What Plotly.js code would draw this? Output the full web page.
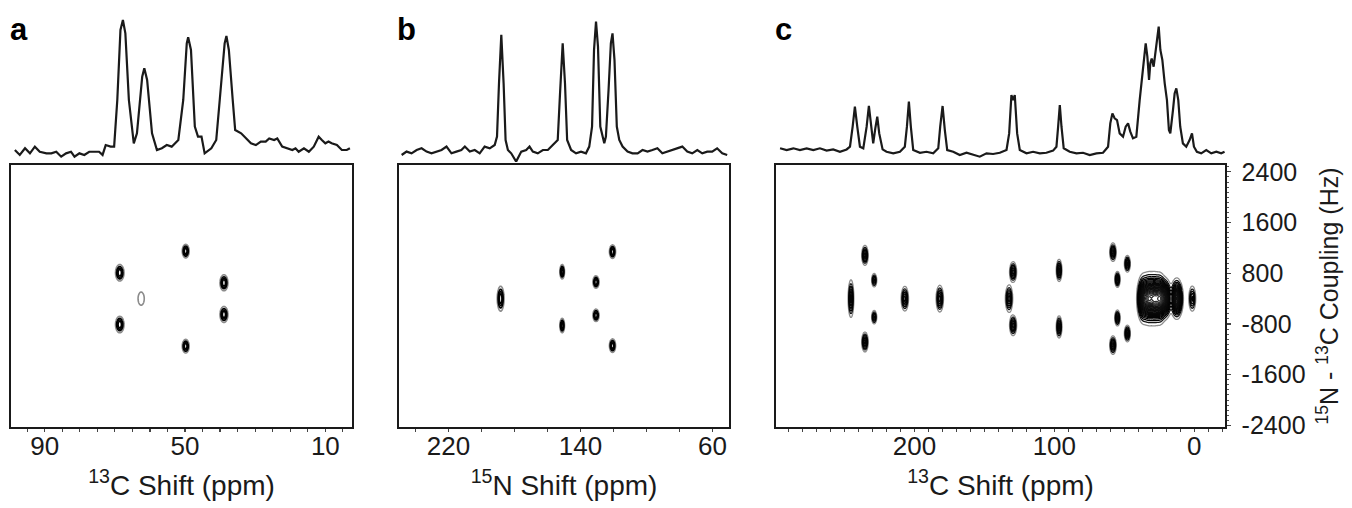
<!DOCTYPE html>
<html>
<head>
<meta charset="utf-8">
<script src="https://cdn.plot.ly/plotly-3.0.1.min.js"></script>
<style>html,body{margin:0;padding:0;background:#fff;}#chart{width:1352px;height:508px;}</style>
</head>
<body>
<div id="chart"></div>
<script>
// ---------- 1D spectra (intensity in % of the tallest peak) ----------
const specA_ppm = [98.5,97.1,95.6,94.2,92.8,91.4,89.5,88.1,86.7,85.3,83.9,82.5,81.5,80.1,78.7,77.3,75.4,74.5,73.5,72.6,71.2,70.2,69.3,68.4,67.7,67.0,66.0,64.6,63.7,62.2,61.6,60.8,59.4,58.0,56.6,55.2,53.8,51.9,50.5,49.5,49.1,48.3,47.2,46.3,45.3,44.4,42.5,41.1,40.1,38.7,38.2,37.5,36.4,35.7,34.0,32.6,31.2,29.8,28.4,27.0,26.0,24.6,23.7,22.3,20.9,19.4,18.5,17.6,16.1,14.7,13.3,11.9,11.0,10.0,9.1,8.2,6.7,5.3,3.9,3.0];
const specA_int = [2.5,-1.2,3.8,0,5,1.2,0,0,1.2,-2.5,0,1.2,-2.5,0,-1.2,1.2,1.2,1.2,-1.2,6.2,5,5,40,92.5,100,90,40,7.5,15,57.5,63.8,55,15,2.5,3.8,6.2,5,10,40,82.5,87,77.5,20,12.5,12.5,0,3.8,10,40,82.5,88,77.5,40,17.5,15,11.2,7.5,6.2,8.8,8.8,11.2,10,11.2,5,3.8,2.5,3.8,1.2,3.8,1.2,5,12.5,10,7.5,8.8,7.5,6.2,2.5,2.5,3.8];

const specB_ppm = [248.4,245.4,242.4,239.3,236.3,233.3,230.3,227.2,224.2,221.2,218.2,215.2,212.2,210.1,207.1,204.1,201.1,198.1,195.0,192.0,190.6,189.4,188.0,186.6,185.4,184.0,182.0,179.0,175.9,172.9,170.9,168.9,165.9,162.8,159.8,156.8,153.8,152.4,150.8,149.4,148.1,145.7,142.7,139.7,136.7,134.7,133.0,131.8,130.6,129.4,128.0,125.6,124.6,123.0,121.6,120.6,119.4,118.0,116.5,114.5,111.5,108.5,105.4,102.4,99.4,96.4,93.4,90.4,87.4,84.3,81.3,78.3,75.3,72.3,69.2,66.2,63.2,60.2,57.2,54.1,51.1];
const specB_int = [-1.3,1.3,0,2.5,3.8,1.3,0,1.3,2.5,5.1,0,1.3,2.5,5.1,1.3,2.5,0,5.1,3.8,6.3,12.7,53.2,89.9,53.2,10.1,2.5,0,-6.3,1.3,2.5,5.1,1.3,0,2.5,2.5,6.3,10.1,45.6,83.5,53.2,10.1,2.5,0,1.3,0,5.1,20.3,78.5,100,81,20.3,7.6,12.7,48.1,83.5,91.1,70.9,20.3,10.1,5.1,1.3,0,0,2.5,1.3,2.5,3.8,0,1.3,2.5,3.8,5.1,1.3,0,2.5,0,1.3,1.3,3.8,0,-1.3];

const specC_ppm = [296.1,291.4,286.6,281.9,277.1,272.3,267.6,262.8,258.1,253.3,248.5,246.1,244.2,242.6,240.9,239.0,236.6,234.2,232.6,230.9,229.5,228.0,226.6,225.2,222.8,220.0,215.2,210.4,206.9,205.4,204.0,202.6,200.9,196.1,191.4,186.6,183.0,181.6,179.9,178.3,176.6,172.3,167.6,162.8,158.0,153.3,148.5,143.8,139.0,134.2,132.3,130.7,129.5,128.3,126.6,124.7,119.9,115.2,110.4,105.7,100.9,98.5,97.3,96.1,94.9,93.3,89.0,84.2,79.5,74.7,69.9,65.2,61.6,60.0,58.5,56.9,55.2,53.3,50.9,49.0,47.3,45.7,43.8,41.4,39.0,37.8,36.1,34.7,33.5,32.3,31.4,30.4,29.0,27.6,26.4,25.4,24.2,22.8,21.1,19.5,18.1,17.1,15.2,14.0,12.8,11.4,10.0,8.1,5.7,3.3,1.6,0.2,-1.9,-5.0,-8.6,-12.2,-15.8,-19.3,-21.7];
const specC_int = [1.4,0,1.4,0,1.4,0,1.4,-0.5,0.5,-1.4,0.5,2.7,18.9,35.1,18.9,2.7,1.4,18.9,35.7,16.2,5.4,17.6,27,13.5,0.5,-1.4,-2.7,-1.4,2.7,18.9,39.2,18.9,0,-2.2,-1.4,-2.7,1.4,18.9,35.7,16.2,0,-1.4,-4.1,-2.2,-4.1,-5.4,-2.7,-3.2,-2.2,0,13.5,44.6,40.5,44.6,13.5,0,-2.7,-1.4,-2.7,-2.2,-0.5,2.7,18.9,36.5,18.9,1.4,-1.4,-2.7,-2.2,-4.1,-2.7,-2.2,2.7,21.6,29.7,25.7,24.3,13.5,10.8,18.9,21.6,14.9,9.5,10.8,40.5,54.1,73,86.5,75.7,56.8,70.3,74.1,67.6,81.1,89.2,100,81.1,73,54.1,40.5,16.2,13.5,32.4,45.9,50,40.5,18.9,5.4,2.7,8.1,13.5,2.7,-1.4,-2.7,0,-2.7,-1.4,-2.7,-1.4];

// ---------- 2D cross peaks: shift (ppm), coupling axis (Hz), widths, relative amplitude ----------
const peaksA_ppm = [68.6,68.6,62.5,49.8,49.8,38.9,38.9];
const peaksA_hz  = [490,-490,0,900,-900,300,-300];
const peaksA_wppm= [0.62,0.62,0.75,0.5,0.5,0.58,0.58];
const peaksA_whz = [80,80,105,66,66,78,78];
const peaksA_amp = [1,1,0.3,1,1,1,1];

const peaksB_ppm = [188.4,151.1,151.1,130.6,130.6,120.6,120.6];
const peaksB_hz  = [0,510,-510,315,-315,890,-890];
const peaksB_wppm= [1.05,0.72,0.72,0.95,0.95,0.95,0.95];
const peaksB_whz = [121,70,70,60,60,66,66];
const peaksB_amp = [1,1,1,1,1,1,1];

const peaksC_ppm = [245.4,235.4,235.4,228.8,228.8,206.9,181.9,132.4,129.5,129.5,96.6,96.6,58.1,58.1,54.9,54.9,47.8,47.8,36.5,32.5,28.5,24.5,20.5,12.5,1.4];
const peaksC_hz  = [0,820,-820,350,-350,0,0,0,505,-505,535,-535,880,-880,365,-365,660,-660,0,0,0,0,0,0,0];
const peaksC_wppm= [1.05,1.2,1.2,1.0,1.0,1.35,1.35,1.35,1.3,1.3,1.05,1.05,1.2,1.2,1.0,1.0,1.1,1.1,2.0,2.0,2.0,2.0,2.0,2.0,1.35];
const peaksC_whz = [183,97,97,70,70,120,130,133,100,100,108,108,90,90,78,78,81,81,200,205,205,200,165,165,130];
const peaksC_amp = [1,1,1,0.8,0.8,1,1,1,1,1,1,1,1,1,1,1,1,1,2.4,2.8,2.8,3.0,2.2,2.6,0.8];

// ---------- axis tick labels ----------
const couplingTickVals = [2400,1440,480,-480,-1440,-2400];
const couplingTickText = ['2400','1600','800','-800','-1600','-2400'];

function buildGrid(xmin,xmax,dx,ymin,ymax,dy,P,H,SX,SY,A){
  const xs=[], ys=[];
  for(let x=xmin; x<=xmax+1e-9; x+=dx) xs.push(+x.toFixed(3));
  for(let y=ymin; y<=ymax+1e-9; y+=dy) ys.push(y);
  const z = ys.map(y => xs.map(x => {
    let s=0;
    for(let k=0;k<P.length;k++){
      const u=(x-P[k])/SX[k], v=(y-H[k])/SY[k];
      const e=u*u+v*v;
      if(e<40) s+=A[k]*Math.exp(-0.5*e);
    }
    return s;
  }));
  return {x:xs,y:ys,z:z};
}

const FONT = 'Liberation Sans, Arial, Helvetica, sans-serif';
const INK = '#1a1a1a';
const W = 1352, Hh = 508;
const px = v => v / W;
const py = v => 1 - v / Hh;

const gA = buildGrid(28,80,0.2,-1300,1300,10,peaksA_ppm,peaksA_hz,peaksA_wppm,peaksA_whz,peaksA_amp);
const gB = buildGrid(105,200,0.3,-1300,1300,10,peaksB_ppm,peaksB_hz,peaksB_wppm,peaksB_whz,peaksB_amp);
const gC = buildGrid(-8,256,0.4,-1300,1300,10,peaksC_ppm,peaksC_hz,peaksC_wppm,peaksC_whz,peaksC_amp);

const cscaleSpots = [[0,'#8c8c8c'],[0.12,'#000000'],[1,'#000000']];
const cscaleBlob = [[0,'#8c8c8c'],[0.03,'#000000'],[0.45,'#111111'],[0.7,'#555555'],[1,'#9a9a9a']];
function contourTrace(g, xa, ya, cs, zmax, lw, step, top){
  return {type:'contour', x:g.x, y:g.y, z:g.z, xaxis:xa, yaxis:ya,
    contours:{coloring:'lines', start:0.15, end:top, size:step},
    line:{width:lw}, colorscale:cs, zauto:false, zmin:0.15, zmax:zmax,
    showscale:false, hoverinfo:'skip'};
}
function specTrace(x, y, xa, ya){
  return {type:'scatter', mode:'lines', x:x, y:y, xaxis:xa, yaxis:ya,
    line:{color:INK, width:2.2}, hoverinfo:'skip'};
}

const data = [
  contourTrace(gA,'x','y',cscaleSpots,1,1.6,0.2,0.8),
  contourTrace(gB,'x2','y2',cscaleSpots,1,1.6,0.2,0.8),
  contourTrace(gC,'x3','y3',cscaleBlob,6,1.3,0.15,8),
  specTrace(specA_ppm,specA_int,'x4','y4'),
  specTrace(specB_ppm,specB_int,'x5','y5'),
  specTrace(specC_ppm,specC_int,'x6','y6')
];

const domA=[px(11),px(352)], domB=[px(399),px(729)], domC=[px(776),px(1225)];
const dom2D=[py(427),py(165)], domSpec=[py(162),py(10)];
const yRange=[-2430,2530];

function xAx2D(dom, range, dtick, tick0, minorDtick, anchor, title){
  return {domain:dom, range:range, anchor:anchor, autorange:false,
    showline:true, mirror:true, linecolor:INK, linewidth:1.6,
    showgrid:false, zeroline:false, automargin:false,
    ticks:'outside', ticklen:3, tickwidth:1.2, tickcolor:'#444',
    tick0:tick0, dtick:dtick, ticklabelstandoff:-8,
    tickfont:{family:FONT, size:26, color:INK},
    minor:{ticks:'outside', ticklen:3, tickwidth:1.2, tickcolor:'#444', dtick:minorDtick, tick0:tick0, showgrid:false},
    title:{text:title, font:{family:FONT, size:28, color:INK}, standoff:15}};
}
function yAxPlain(anchor){
  return {domain:dom2D, range:yRange, anchor:anchor, autorange:false,
    showline:true, mirror:true, linecolor:INK, linewidth:1.6,
    showgrid:false, zeroline:false, ticks:'', showticklabels:false, automargin:false};
}
function specX(dom, range, anchor){
  return {domain:dom, range:range, anchor:anchor, visible:false, autorange:false};
}
function specY(range, anchor){
  return {domain:domSpec, range:range, anchor:anchor, visible:false, autorange:false};
}

const layout = {
  width:W, height:Hh, margin:{l:0,r:0,t:0,b:0}, paper_bgcolor:'#fff', plot_bgcolor:'rgba(0,0,0,0)',
  showlegend:false, font:{family:FONT, color:INK},
  xaxis: xAx2D(domA,[99.6,2.4],40,10,5,'y','<sup>13</sup>C Shift (ppm)'),
  yaxis: yAxPlain('x'),
  xaxis2: xAx2D(domB,[250,50],80,60,20,'y2','<sup>15</sup>N Shift (ppm)'),
  yaxis2: yAxPlain('x2'),
  xaxis3: xAx2D(domC,[299,-22],100,0,10,'y3','<sup>13</sup>C Shift (ppm)'),
  yaxis3: {domain:dom2D, range:yRange, anchor:'x3', side:'right', autorange:false,
    showline:true, mirror:true, linecolor:INK, linewidth:1.6,
    showgrid:false, zeroline:false, automargin:false,
    tickmode:'array', tickvals:couplingTickVals, ticktext:couplingTickText,
    ticks:'outside', ticklen:4, tickwidth:1.2, tickcolor:'#444', ticklabelstandoff:6,
    tickfont:{family:FONT, size:25, color:INK},
    minor:{ticks:'outside', ticklen:2, tickwidth:1, tickcolor:'#555', tickmode:'linear', tick0:0, dtick:96, showgrid:false},
    title:{text:'<sup>15</sup>N - <sup>13</sup>C Coupling (Hz)', font:{family:FONT, size:25, color:INK}, standoff:16}},
  xaxis4: specX(domA,[99.6,2.4],'y4'), yaxis4: specY([-6.5,107.5],'x4'),
  xaxis5: specX(domB,[250,50],'y5'), yaxis5: specY([-6.6,108.8],'x5'),
  xaxis6: specX(domC,[299,-22],'y6'), yaxis6: specY([-9.7,113.5],'x6'),
  annotations: [
    {text:'<b>a</b>', xref:'paper', yref:'paper', x:px(8), y:py(29), xanchor:'left', yanchor:'middle', showarrow:false, font:{family:FONT, size:31, color:'#000'}},
    {text:'<b>b</b>', xref:'paper', yref:'paper', x:px(395), y:py(29), xanchor:'left', yanchor:'middle', showarrow:false, font:{family:FONT, size:31, color:'#000'}},
    {text:'<b>c</b>', xref:'paper', yref:'paper', x:px(773), y:py(29), xanchor:'left', yanchor:'middle', showarrow:false, font:{family:FONT, size:31, color:'#000'}}
  ]
};

Plotly.newPlot('chart', data, layout, {displayModeBar:false, staticPlot:true});
</script>
</body>
</html>
